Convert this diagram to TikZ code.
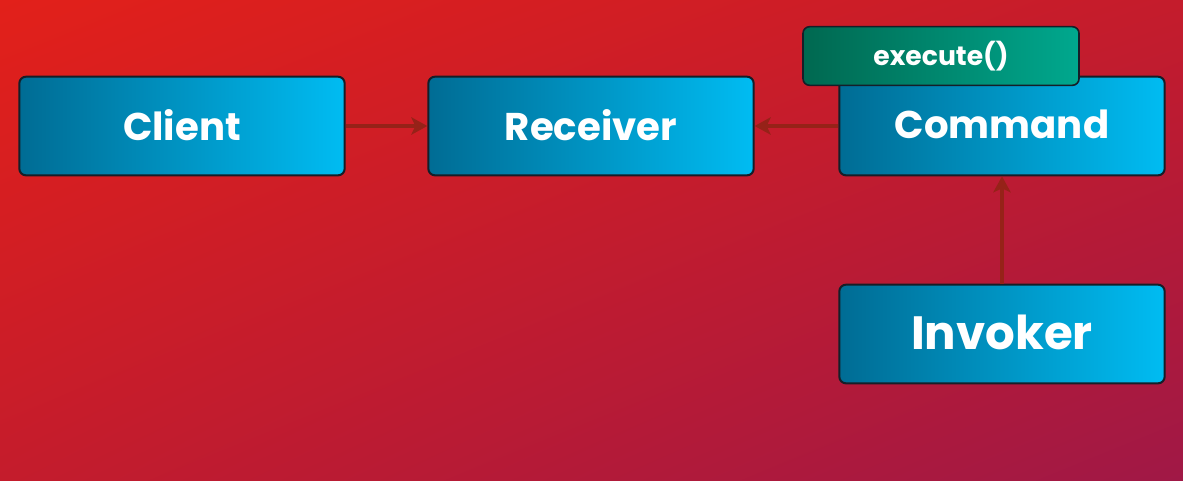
\documentclass[tikz,border=0pt]{standalone}
\usepackage{fontspec}
\setmainfont{Poppins}
\usetikzlibrary{arrows.meta,shadings}

\definecolor{bgred}{RGB}{226,32,26}
\definecolor{bgcrimson}{RGB}{196,28,44}
\definecolor{bgplum}{RGB}{160,24,70}
\definecolor{boxdark}{RGB}{0,108,148}
\definecolor{boxlight}{RGB}{0,188,242}
\definecolor{greendark}{RGB}{0,104,80}
\definecolor{greenlight}{RGB}{0,168,142}
\definecolor{edgedark}{RGB}{22,30,40}
\definecolor{linkred}{RGB}{150,34,24}

\begin{document}
\begin{tikzpicture}[x=0.75pt,y=0.75pt,yscale=-1,xscale=1,
  classbox/.style={draw=edgedark,line width=1.5pt,rounded corners=5pt,
    left color=boxdark,right color=boxlight,
    minimum width=244pt,minimum height=74pt,inner sep=0pt,
    text=white,font=\fontsize{29}{34}\selectfont\bfseries},
  methodbox/.style={draw=edgedark,line width=1.2pt,rounded corners=5pt,
    left color=greendark,right color=greenlight,
    minimum width=207pt,minimum height=44pt,inner sep=0pt,
    text=white,font=\fontsize{20}{24}\selectfont\bfseries},
  link/.style={draw=linkred,line width=3pt,-{Stealth[length=12pt,width=13pt,inset=3pt]}}]
\useasboundingbox (0,0) rectangle (1183,480);
% background
\shade[upper left=bgred,upper right=bgcrimson,lower left=bgcrimson,lower right=bgplum] (0,0) rectangle (1183,480);

% classes
\node[classbox] (client) at (182,126) {\raisebox{2pt}{Client}};
\node[classbox] (receiver) at (591,126) {\raisebox{2pt}{Receiver}};
\node[classbox] (command) at (1002,126) {\raisebox{2pt}{Command}};
\node[classbox,font=\fontsize{35}{40}\selectfont\bfseries] (invoker) at (1002,334) {\raisebox{2pt}{Invoker}};
\node[methodbox] (execute) at (941,56) {\raisebox{3pt}{execute()}};

% links
\draw[link] (client) -- (receiver);
\draw[link] (command) -- (receiver);
\draw[link] (invoker) -- (command);
\end{tikzpicture}
\end{document}
